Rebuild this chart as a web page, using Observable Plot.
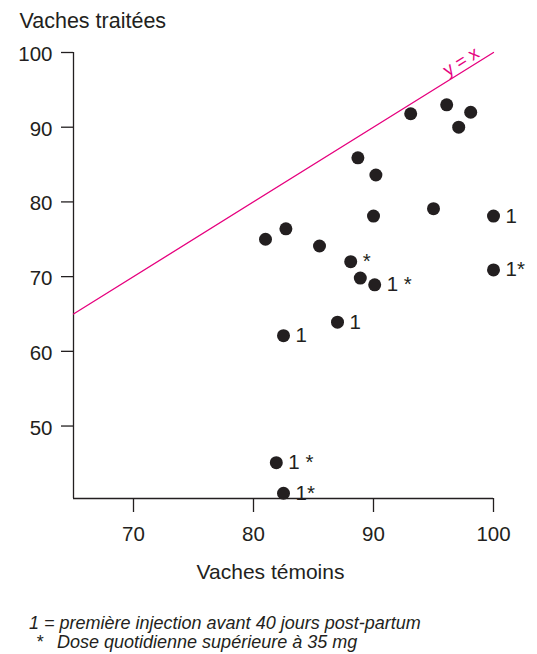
<!DOCTYPE html>
<html>
<head>
<meta charset="utf-8">
<script src="https://cdn.jsdelivr.net/npm/d3@7"></script>
<script src="https://cdn.jsdelivr.net/npm/@observablehq/plot@0.6"></script>
<style>
  html, body { margin: 0; padding: 0; background: #fff; }
  body { width: 537px; height: 654px; position: relative; overflow: hidden;
         font-family: "Liberation Sans", Arial, Helvetica, sans-serif; color: #231f20; }
  #chart { position: absolute; left: 0; top: 0; }
  .note { position: absolute; font-size: 18px; font-style: italic; line-height: 19px; white-space: nowrap; }
</style>
</head>
<body>
<div id="chart"></div>
<div class="note" style="left:29px; top:614px;">1 = première injection avant 40 jours post-partum</div>
<div class="note" style="left:36px; top:633px;">*</div>
<div class="note" style="left:57px; top:633px;">Dose quotidienne supérieure à 35 mg</div>
<script>
// --- data ---
const controlCows = [93.1, 96.1, 98.1, 97.1, 88.7, 90.2, 81.0, 82.7, 85.5, 90.0, 95.0, 100.0, 88.1, 88.9, 90.1, 100.0, 87.0, 82.5, 81.9, 82.5];
const treatedCows = [91.8, 93.0, 92.0, 90.0, 85.9, 83.6, 75.0, 76.4, 74.1, 78.1, 79.1, 78.1, 72.0, 69.8, 68.9, 70.9, 63.9, 62.1, 45.1, 41.0];
const cowNotes    = ["", "", "", "", "", "", "", "", "", "", "", "1", "*", "", "1 *", "1*", "1", "1", "1 *", "1*"];
const xTicks = [70, 80, 90, 100];
const yTicks = [50, 60, 70, 80, 90, 100];
const xDomain = [65, 100];
const yDomain = [40.3, 100];
const identityLine = [65, 100];
const identityLabel = "y = x";
const identityLabelAt = 97.3;
const yTitle = "Vaches traitées";
const xTitle = "Vaches témoins";

const ink = "#231f20";
const magenta = "#e6007e";

const rows = controlCows.map((c, i) => ({x: c, y: treatedCows[i], note: cowNotes[i]}));
const diag = identityLine.map(v => ({x: v, y: v}));

const chart = Plot.plot({
  width: 537,
  height: 590,
  marginLeft: 73,
  marginRight: 44,
  marginTop: 52,
  marginBottom: 92,
  style: {fontSize: "20px", fontFamily: "'Liberation Sans', Arial, Helvetica, sans-serif", color: ink, background: "#fff"},
  x: {domain: xDomain},
  y: {domain: yDomain},
  marks: [
    Plot.ruleX([xDomain[0]], {stroke: ink, strokeWidth: 1.3}),
    Plot.ruleY([yDomain[0]], {stroke: ink, strokeWidth: 1.3}),
    Plot.axisX({ticks: xTicks, tickSize: 14, tickPadding: 14, label: null, stroke: ink, strokeWidth: 1.3, fill: ink, fontSize: 20.5}),
    Plot.axisY({ticks: yTicks, tickSize: 12, text: null, label: null, stroke: ink, strokeWidth: 1.3}),
    Plot.axisY({ticks: yTicks, tickSize: 0, tickPadding: 21, dy: 2, label: null, fill: ink, fontSize: 20.5}),
    Plot.line(diag, {x: "x", y: "y", stroke: magenta, strokeWidth: 1.3}),
    Plot.text([identityLabelAt], {x: d => d, y: d => d, text: () => identityLabel, rotate: -32, dy: -11, fill: magenta, fontSize: 18}),
    Plot.dot(rows, {x: "x", y: "y", r: 6.5, fill: ink, stroke: null}),
    Plot.text(rows.filter(d => d.note), {x: "x", y: "y", text: "note", textAnchor: "start", dx: 12, fill: ink, fontSize: 20.5}),
    Plot.text([yTitle], {frameAnchor: "top-left", textAnchor: "start", lineAnchor: "middle", dx: -54, dy: -31, fill: ink, fontSize: 21.5}),
    Plot.text([xTitle], {frameAnchor: "bottom", lineAnchor: "middle", dx: -13, dy: 74, fill: ink, fontSize: 21})
  ]
});
document.getElementById("chart").appendChild(chart);
</script>
</body>
</html>
